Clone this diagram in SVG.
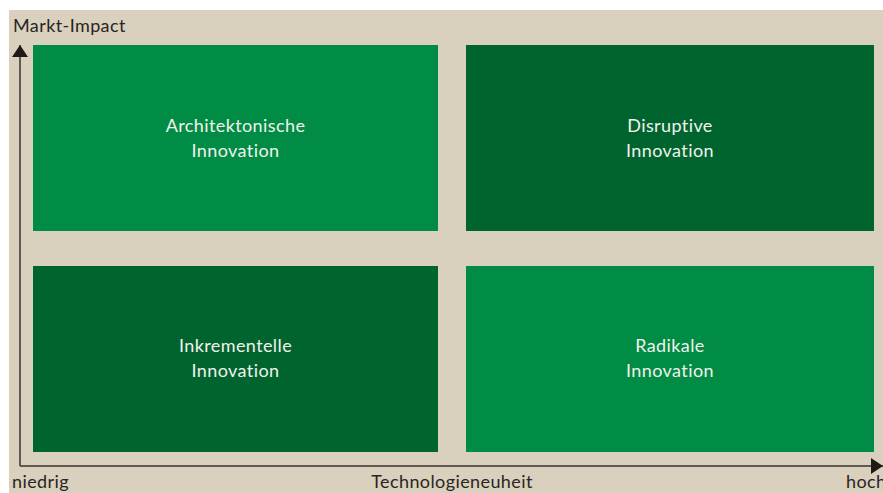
<svg xmlns="http://www.w3.org/2000/svg" width="883" height="493" viewBox="0 0 883 493">
  <style>
    .bg { fill: #d9d0be; }
    .light { fill: #008c44; }
    .dark { fill: #00642f; }
    text { font-family: "Lato", "Liberation Sans", sans-serif; font-size: 18px; letter-spacing: 0.4px; font-variant-ligatures: none; }
    .lbl { fill: #f2f2ec; text-anchor: middle; }
    .axis-lbl { fill: #2a2522; }
    .axis { stroke: #3a3431; stroke-width: 1.5; fill: none; }
  </style>
  <defs>
    <marker id="arrow" viewBox="0 0 12 16" refX="12" refY="8" markerWidth="12" markerHeight="16" markerUnits="userSpaceOnUse" orient="auto">
      <path d="M0,0 L12,8 L0,16 Z" fill="#1f1a18"/>
    </marker>
  </defs>

  <rect class="bg" x="9" y="10" width="874" height="483"/>

  <g id="connectors">
    <path class="axis" d="M20,466 L20,45" marker-end="url(#arrow)"/>
    <path class="axis" d="M20,466 L883,466" marker-end="url(#arrow)"/>
  </g>

  <g id="architektonisch">
    <rect class="light" x="33" y="45" width="405" height="186"/>
    <text class="lbl" x="235.5" y="132">Architektonische</text>
    <text class="lbl" x="235.5" y="157">Innovation</text>
  </g>

  <g id="disruptiv">
    <rect class="dark" x="466" y="45" width="408" height="186"/>
    <text class="lbl" x="670" y="132">Disruptive</text>
    <text class="lbl" x="670" y="157">Innovation</text>
  </g>

  <g id="inkrementell">
    <rect class="dark" x="33" y="266" width="405" height="186"/>
    <text class="lbl" x="235.5" y="352">Inkrementelle</text>
    <text class="lbl" x="235.5" y="377">Innovation</text>
  </g>

  <g id="radikal">
    <rect class="light" x="466" y="266" width="408" height="186"/>
    <text class="lbl" x="670" y="352">Radikale</text>
    <text class="lbl" x="670" y="377">Innovation</text>
  </g>

  <g id="axis-labels">
    <text class="axis-lbl" x="13" y="32">Markt-Impact</text>
    <text class="axis-lbl" x="12" y="488">niedrig</text>
    <text class="axis-lbl" x="452" y="488" text-anchor="middle">Technologieneuheit</text>
    <text class="axis-lbl" x="846" y="488">hoch</text>
  </g>
</svg>
